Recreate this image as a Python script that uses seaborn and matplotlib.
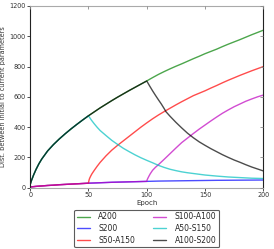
import numpy as np
import pandas as pd
import matplotlib
matplotlib.use("Agg")
import matplotlib.pyplot as plt
import seaborn as sns

# --- data ---
labels = ["A200", "S200", "S50-A150", "S100-A100", "A50-S150", "A100-S200"]
colors = ["g", "b", "r", "m", "c", "k"]

# shared "A" prefix (epochs 0..100)
a_ep = [0, 1, 2, 3, 5, 7.5, 10, 15, 20, 25, 30, 35, 40, 45, 50,
        55, 60, 65, 70, 75, 80, 85, 90, 95, 100]
a_val = [20, 45, 65, 85, 120, 158, 190, 243, 285, 322, 356, 388, 418, 447, 475,
         501, 527, 551, 575, 598, 620, 642, 663, 684, 705]

# shared "S" prefix (epochs 0..100)
s_ep = [0, 5, 10, 15, 20, 25, 30, 35, 40, 45, 50, 60, 70, 80, 90, 100]
s_val = [5, 9, 12, 15, 17, 20, 22, 24, 26, 28, 30, 33, 36, 38, 40, 42]

# A200 after epoch 100
a200_ep = [105, 110, 115, 120, 125, 130, 135, 140, 145, 150, 155, 160,
           165, 170, 175, 180, 185, 190, 195, 200]
a200_val = [727, 748, 767, 785, 802, 818, 835, 852, 868, 885, 900, 915,
            932, 948, 963, 978, 994, 1010, 1025, 1040]

# S200 after epoch 100
s200_ep = [110, 120, 140, 160, 180, 200]
s200_val = [44, 45, 47, 49, 50, 51]

# S50-A150 after epoch 50
s50_ep = [50.5, 51, 52, 53, 55, 57.5, 60, 65, 70, 75, 80, 85, 90, 95, 100,
          105, 110, 115, 120, 125, 130, 135, 140, 145, 150, 155, 160, 165,
          170, 175, 180, 185, 190, 195, 200]
s50_val = [50, 62, 78, 92, 115, 142, 167, 210, 248, 280, 310, 340, 370, 400, 428,
           455, 480, 503, 525, 547, 568, 588, 608, 624, 640, 658, 675, 693,
           710, 726, 742, 757, 772, 786, 800]

# S100-A100 after epoch 100
s100_ep = [100.5, 101, 102, 103, 105, 107.5, 110, 115, 120, 125, 130, 136.5,
           140, 145, 150, 155, 160, 165, 170, 175, 180, 185, 190, 195, 200]
s100_val = [55, 63, 78, 92, 115, 135, 152, 188, 225, 262, 298, 337,
            358, 387, 414, 441, 467, 492, 514, 535, 553, 571, 586, 600, 612]

# A50-S150 after epoch 50
a50_ep = [52.5, 55, 57.5, 60, 65, 70, 75, 80, 85, 90, 95, 100, 105, 110, 115,
          120, 125, 130, 135, 140, 145, 150, 160, 170, 180, 190, 200]
a50_val = [447, 422, 399, 378, 345, 313, 286, 260, 238, 217, 198, 181, 165, 148, 134,
           122, 113, 105, 99, 94, 89, 84, 77, 71, 67, 63, 61]

# A100-S200 after epoch 100
a100_ep = [102.5, 105, 107.5, 110, 112.5, 115, 116.5, 120, 125, 130, 135, 140,
           145, 150, 155, 160, 165, 170, 175, 180, 185, 190, 195, 200]
a100_val = [672, 640, 610, 581, 553, 522, 502, 472, 432, 395, 360, 330,
            303, 280, 258, 238, 218, 200, 183, 168, 152, 137, 124, 111]

xticks = [0, 50, 100, 150, 200]
yticks = [0, 200, 400, 600, 800, 1000, 1200]


def upto(ep, val, lim):
    return [e for e in ep if e <= lim], [v for e, v in zip(ep, val) if e <= lim]


series = {}
series["A200"] = (a_ep + a200_ep, a_val + a200_val)
series["S200"] = (s_ep + s200_ep, s_val + s200_val)
e, v = upto(s_ep, s_val, 50)
series["S50-A150"] = (e + s50_ep, v + s50_val)
series["S100-A100"] = (s_ep + s100_ep, s_val + s100_val)
e, v = upto(a_ep, a_val, 50)
series["A50-S150"] = (e + a50_ep, v + a50_val)
series["A100-S200"] = (a_ep + a100_ep, a_val + a100_val)

rows = []
for lab in labels:
    for ep, val in zip(*series[lab]):
        rows.append({"Epoch": ep, "dist": val, "run": lab})
df = pd.DataFrame(rows)

sns.set_style("white")
plt.rcParams["font.family"] = ["DejaVu Sans"]

fig = plt.figure(figsize=(2.74, 2.49), dpi=100)
ax = fig.add_axes([0.11, 0.246, 0.851, 0.730])

sns.lineplot(data=df, x="Epoch", y="dist", hue="run", hue_order=labels,
             palette=dict(zip(labels, colors)), alpha=0.7, linewidth=1.0,
             ax=ax, legend=True, sort=False, estimator=None)

ax.set_xlim(0, 200)
ax.set_ylim(0, 1200)
ax.set_xticks(xticks)
ax.set_yticks(yticks)
ax.tick_params(labelsize=4.7, length=2, width=0.6, colors="#333333", pad=1.2,
               direction="out", left=True, bottom=True)
ax.set_xlabel("Epoch", fontsize=5, color="#333333", labelpad=1.5)
ax.set_ylabel("Dist. between initial to current parameters", fontsize=4.7,
              color="#333333", labelpad=2.5)

for side in ["left", "right"]:
    ax.spines[side].set_color("#222222")
    ax.spines[side].set_linewidth(0.8)
for side in ["top", "bottom"]:
    ax.spines[side].set_color("#aaaaaa")
    ax.spines[side].set_linewidth(0.8)

# inward ticks on the right and top sides
axr = ax.twinx()
axr.set_ylim(0, 1200)
axr.set_yticks(yticks)
axr.tick_params(axis="y", direction="in", length=2, width=0.6,
                colors="#888888", labelright=False)
axt = ax.twiny()
axt.set_xlim(0, 200)
axt.set_xticks(xticks)
axt.tick_params(axis="x", direction="in", length=2, width=0.6,
                colors="#888888", labeltop=False)
for a in (axr, axt):
    for sp in a.spines.values():
        sp.set_visible(False)
    a.grid(False)

handles, labs = ax.get_legend_handles_labels()
ax.legend(handles, labs, loc="upper center", bbox_to_anchor=(0.5, -0.12),
          ncol=2, fontsize=5.5, frameon=True, fancybox=True,
          edgecolor="#333333", handlelength=1.7, columnspacing=2.4,
          borderpad=0.35, labelspacing=0.35, handletextpad=1.1,
          borderaxespad=0)
ax.get_legend().get_frame().set_linewidth(0.8)

fig.savefig("out.png", dpi=100)
